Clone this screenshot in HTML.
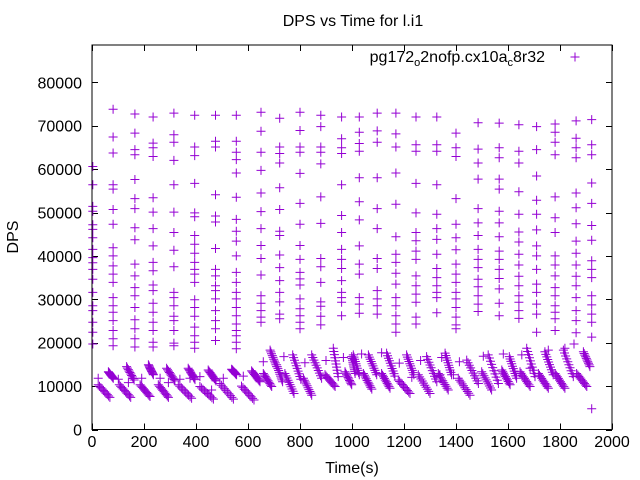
<!DOCTYPE html>
<html><head><meta charset="utf-8"><style>
body{margin:0;background:#fff}
svg{display:block}
text{font-family:"Liberation Sans",sans-serif;font-size:16px;fill:#000}
</style></head><body>
<svg id="chart" width="640" height="480" xmlns="http://www.w3.org/2000/svg">
<rect x="0" y="0" width="640" height="480" fill="#fff"/>
<text x="353" y="26" text-anchor="middle">DPS vs Time for l.i1</text>
<text x="352" y="473" text-anchor="middle">Time(s)</text>
<text transform="translate(18,237) rotate(-90)" text-anchor="middle">DPS</text>
<g id="axes"></g>
<g id="marks"></g>
<g>
<text x="545" y="62" text-anchor="end">pg172<tspan font-size="11" dy="4">o</tspan><tspan dy="-4">2nofp.cx10a</tspan><tspan font-size="11" dy="4">c</tspan><tspan dy="-4">8r32</tspan></text>
<path d="M570.5 57h9M575 52.5v9" stroke="#9400d3" stroke-width="1"/>
</g>
<rect x="92" y="45" width="520" height="384.5" fill="none" stroke="#000" stroke-width="1"/>
</svg>
<script>
// ---- data (time in s, DPS in thousands) ----
const xTicks = [0,200,400,600,800,1000,1200,1400,1600,1800,2000];
const yTicks = [0,10000,20000,30000,40000,50000,60000,70000,80000];
const colTimes = [3,81,165,235,315,395,475,555,650,722,800,880,960,1028,1097,1169,1246,1326,1400,1485,1566,1642,1710,1781,1862,1922];
const colValues = [
[60.6,56.4,51.4,50.3,47.2,46.1,44.2,41.5,39.6,38.4,36.9,34.6,31.6,28.5,27.4,24.7,22.4,19.7],
[73.8,67.4,63.7,56.4,55.4,50.7,47.3,41.9,40.0,37.7,35.8,33.9,30.4,28.5,27.0,25.1,22.8,20.9,19.3],
[72.7,68.3,64.5,63.3,57.6,53.2,50.9,46.5,43.7,38.1,35.4,32.7,30.8,28.1,25.3,23.2,20.9,19.0],
[72.0,66.0,64.9,62.9,53.4,50.1,46.3,42.3,38.5,36.6,33.3,32.0,29.1,27.0,24.7,22.8,20.1,19.0],
[72.9,67.9,66.2,62.0,56.4,50.1,45.4,41.3,37.5,31.6,30.4,28.5,26.1,25.1,22.8,19.9,19.3],
[72.4,65.1,63.1,56.7,49.9,49.0,44.7,42.7,40.6,38.5,36.9,35.8,33.9,29.9,28.1,26.1,23.6,21.6,20.1,18.7],
[72.4,66.4,65.1,54.1,49.2,47.8,41.7,36.9,35.4,33.1,32.0,30.1,27.4,25.1,23.2,20.5],
[72.4,66.4,63.9,62.2,59.1,53.5,48.4,45.7,43.4,40.0,36.2,33.9,31.6,30.1,28.1,26.2,24.3,22.8,21.6,20.1,18.6],
[73.1,68.7,63.9,59.7,54.5,50.2,46.3,42.4,39.4,35.6,30.8,29.1,27.4,25.9,24.7],
[71.7,65.1,63.6,61.4,55.7,50.7,45.7,44.7,40.2,37.3,34.3,31.6,29.4,26.6,25.5],
[73.1,68.9,65.1,63.9,59.0,52.1,47.3,42.4,39.2,36.2,34.7,33.3,30.1,27.8,26.2,24.7,23.2],
[72.4,69.8,65.1,63.9,61.2,53.6,47.5,39.4,37.5,33.9,29.4,28.4,26.1,24.1],
[72.0,67.0,64.9,63.6,56.4,49.3,45.4,41.5,39.2,37.1,34.3,31.6,30.4,29.3,26.2],
[72.0,68.5,65.9,64.1,58.0,52.5,48.3,42.3,38.1,35.8,30.4,28.9,26.8],
[72.9,68.8,66.2,58.0,50.9,46.3,39.4,37.1,32.0,30.1,28.5,26.6],
[72.9,68.1,65.1,59.1,51.9,44.4,40.4,38.5,36.0,33.5,30.4,28.5,26.2,24.3,22.4],
[72.0,65.6,64.1,56.7,49.9,45.4,43.5,41.1,39.2,35.4,33.1,31.2,29.3,25.9,24.3],
[72.0,65.6,64.1,56.4,49.6,46.3,43.8,40.4,37.1,35.0,33.1,31.6,30.4,26.9],
[68.3,64.9,62.9,53.2,47.3,44.2,41.4,38.1,35.8,33.9,31.6,30.1,28.1,25.9,24.1,23.2],
[70.7,64.6,61.4,57.7,50.9,47.6,44.7,41.5,39.2,37.3,34.6,32.9,30.8,28.9,27.2],
[70.6,64.9,62.6,57.7,55.4,50.3,47.6,44.4,41.1,39.2,36.9,34.8,32.4,29.1,26.2],
[70.2,64.1,61.4,54.8,49.6,45.5,43.2,40.4,37.9,35.3,33.1,30.8,29.3,27.4,25.6],
[69.8,64.5,58.4,52.8,49.6,46.0,42.3,40.0,36.9,33.5,31.6,28.9,26.6,22.4],
[70.4,68.5,66.2,63.3,53.6,48.8,45.4,40.0,37.9,35.4,32.7,30.8,28.5,27.0,25.5,22.8],
[71.1,67.1,64.9,62.6,54.5,51.1,47.4,43.4,40.6,37.9,35.3,33.1,30.4,27.4,25.1,22.3],
[71.4,65.6,63.3,56.8,52.1,47.0,43.6,38.9,36.9,35.0,30.8,28.7,26.6,24.7,21.3,4.8]
];
// low-band streaks: start/end time and start/end DPS (k)
const streakT0 = [24,105,185,255,332,415,492,575,63,133,217,287,370,447,537,614,659,685,710,742,772,813,845,896,928,973,1005,999,1044,1063,1114,1133,1178,1210,1255,1287,1332,1358,1409,1441,1499,1524,1576,1605,1646,1672,1717,1742,1781,1813,1864,1890];
const streakT1 = [69,149,223,294,383,467,544,623,82,162,236,319,396,477,556,646,691,710,733,777,803,845,883,935,947,999,1028,1012,1076,1095,1146,1165,1223,1238,1300,1326,1370,1383,1454,1486,1537,1563,1608,1633,1685,1704,1755,1774,1819,1851,1903,1915];
const streakV0 = [10.3,10.3,10.3,10.3,10.3,9.9,10.6,10.0,13.3,14.5,14.9,14.1,14.1,13.7,13.9,13.5,12.9,18.3,14.9,12.9,17.2,11.8,17.2,12.6,18.7,13.3,17.2,16.8,12.9,17.2,12.9,17.6,11.4,17.2,12.6,16.8,12.9,17.6,11.8,16.0,13.3,17.2,13.7,16.8,13.3,18.7,12.9,17.9,12.9,18.3,12.9,17.9];
const streakV1 = [7.4,7.4,7.6,7.4,7.2,7.0,7.0,6.8,11.8,11.4,12.6,11.2,11.5,11.2,12.6,11.0,9.9,14.5,11.0,8.3,11.6,7.9,11.8,9.9,12.2,10.3,12.6,12.9,9.3,12.6,9.5,12.3,8.3,12.6,8.3,11.0,9.1,12.6,7.9,10.6,9.1,10.6,10.3,11.8,9.9,12.2,9.5,12.6,9.5,12.2,9.9,14.5];
const singleT = [24,101,140,191,262,294,338,377,415,460,505,582,659,738,819,900,967,1037,1114,1182,1264,1345,1413,1505,1582,1653,1685,1755,1819,1854,1230,1338,1390];
const singleV = [11.8,11.6,10.8,11.8,11.8,10.8,11.6,11.8,12.2,9.1,11.8,12.3,15.6,16.8,15.4,15.9,16.6,17.4,17.7,15.3,15.9,16.6,15.6,16.9,17.4,17.2,14.1,18.3,18.7,19.7,12.0,12.6,12.6];

// ---- axes ----
const X0=92,X1=612,Y0=429.5,YT=45;
const xMax=2000, yMax=(Y0-YT)/4.34*1000;
function sx(t){return X0+t/xMax*(X1-X0);}
function sy(v){return Y0-v/yMax*(Y0-YT);} // v in DPS
const NS='http://www.w3.org/2000/svg';
const axes=document.getElementById('axes');
const marks=document.getElementById('marks');
function mk(tag,attrs,parent){const e=document.createElementNS(NS,tag);for(const k in attrs)e.setAttribute(k,attrs[k]);parent.appendChild(e);return e;}
xTicks.forEach(t=>{
  const x=Math.round(sx(t))+0.5;
  const p=mk('path',{d:`M${x} ${Y0}v-6M${x} ${YT}v6`,stroke:'#000','stroke-width':1},axes);
  
  
  const tx=mk('text',{x:sx(t),y:447,'text-anchor':'middle'},axes);
  tx.textContent=t;
  
  
});
yTicks.forEach(v=>{
  const y=Math.round(sy(v))+0.5;
  const p=mk('path',{d:`M${X0} ${y}h6M${X1} ${y}h-6`,stroke:'#000','stroke-width':1},axes);
  
  
  const tx=mk('text',{x:82,y:sy(v)+6,'text-anchor':'end'},axes);
  tx.textContent=v;
  
  
});
// ---- points ----
let d='';
function plus(t,vk){const x=sx(t),y=sy(vk*1000);d+=`M${(x-4.5).toFixed(1)} ${y.toFixed(1)}h9M${x.toFixed(1)} ${(y-4.5).toFixed(1)}v9`;}
colTimes.forEach((t,i)=>colValues[i].forEach(v=>plus(t,v)));
streakT0.forEach((t0,i)=>{
  const n=10;
  for(let k=0;k<n;k++){
    const f=k/(n-1);
    plus(t0+(streakT1[i]-t0)*f, streakV0[i]+(streakV1[i]-streakV0[i])*f);
  }
});
singleT.forEach((t,i)=>plus(t,singleV[i]));
const pts=mk('path',{d:d,stroke:'#9400d3','stroke-width':1,fill:'none'},marks);


</script>
</body></html>
